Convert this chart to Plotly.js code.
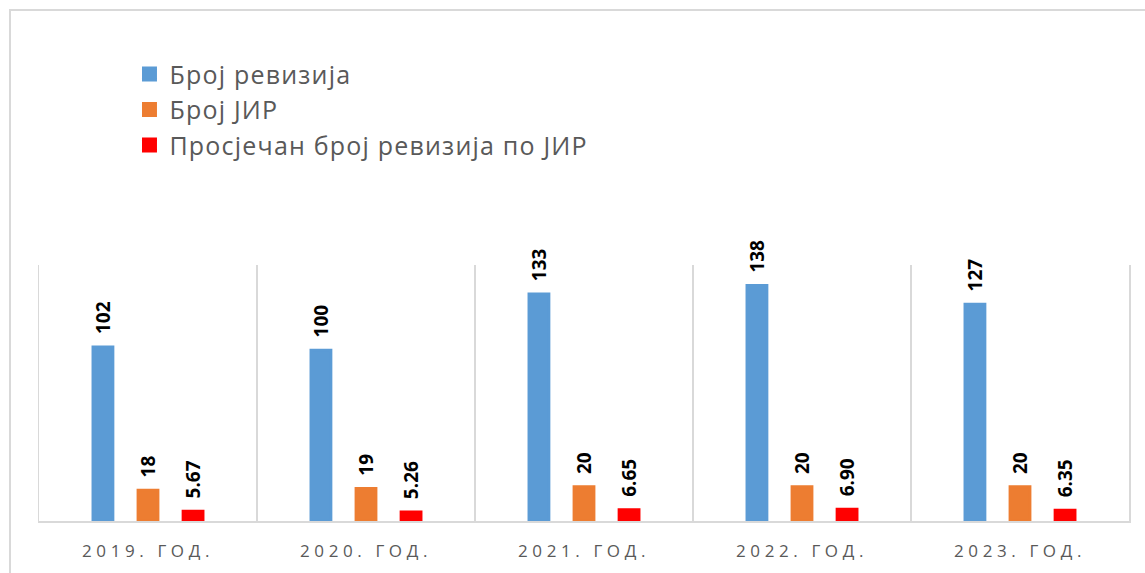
<!DOCTYPE html>
<html>
<head>
<meta charset="utf-8">
<script src="https://cdn.plot.ly/plotly-3.0.1.min.js"></script>
<style>
  html, body { margin: 0; padding: 0; background: #ffffff; overflow: hidden; }
  #frame { position: absolute; left: 9px; top: 9px; width: 1200px; height: 600px;
           border-left: 2px solid #d9d9d9; border-top: 2px solid #d9d9d9; }
  #chart { position: absolute; left: 0; top: 0; width: 1145px; height: 573px; }
  .xtick text { letter-spacing: 4.6px; }
  .legendtext { letter-spacing: 1.2px; }
</style>
</head>
<body>
<div id="frame"></div>
<div id="chart"></div>
<script>
const categories = ['2019. ГОД.', '2020. ГОД.', '2021. ГОД.', '2022. ГОД.', '2023. ГОД.'];
const seriesNames = ['Број ревизија', 'Број ЈИР', 'Просјечан број ревизија по ЈИР'];
const revisions = [102, 100, 133, 138, 127];
const jirCount = [18, 19, 20, 20, 20];
const avgPerJir = [5.67, 5.26, 6.65, 6.90, 6.35];
const colors = ['#5B9BD5', '#ED7D31', '#FF0000'];

const pad = '\u00a0\u00a0';
const labelFont = { family: 'Open Sans, sans-serif', size: 19, color: '#000000', weight: 'bold' };

function barTrace(name, values, color, fmt, group) {
  return {
    type: 'bar',
    name: name,
    x: categories,
    y: values,
    marker: { color: color, line: { color: color, width: 3 } },
    text: values.map(v => pad + fmt(v)),
    textposition: 'outside',
    textangle: -90,
    textfont: labelFont,
    constraintext: 'none',
    cliponaxis: false,
    hoverinfo: 'none',
    legendgroup: group
  };
}

const data = [
  barTrace(seriesNames[0], revisions, colors[0], v => String(v), 'a'),
  barTrace(seriesNames[1], jirCount, colors[1], v => String(v), 'b'),
  barTrace(seriesNames[2], avgPerJir, colors[2], v => v.toFixed(2), 'c')
];

const layout = {
  width: 1145,
  height: 573,
  margin: { l: 39, r: 16, t: 265, b: 52 },
  paper_bgcolor: 'rgba(0,0,0,0)',
  plot_bgcolor: 'rgba(0,0,0,0)',
  barmode: 'group',
  bargap: 0.38,
  bargroupgap: 0.56,
  showlegend: true,
  legend: {
    x: 0.083, xanchor: 'left',
    y: 1.835, yanchor: 'top',
    orientation: 'v',
    font: { family: 'Open Sans, sans-serif', size: 25, color: '#595959' },
    tracegroupgap: 0,
    bgcolor: 'rgba(0,0,0,0)'
  },
  xaxis: {
    type: 'category',
    tickson: 'boundaries',
    showgrid: true,
    gridcolor: '#d9d9d9',
    gridwidth: 1.5,
    showline: true,
    linecolor: '#d9d9d9',
    linewidth: 1.5,
    ticks: '',
    ticklen: 0,
    ticklabelstandoff: 14,
    tickfont: { family: 'Open Sans, sans-serif', size: 17, color: '#595959' },
    fixedrange: true
  },
  yaxis: {
    range: [0, 150],
    showgrid: false,
    zeroline: false,
    showticklabels: false,
    showline: true,
    mirror: true,
    linecolor: '#d9d9d9',
    linewidth: 1.5,
    ticks: '',
    fixedrange: true
  }
};

Plotly.newPlot('chart', data, layout, { displayModeBar: false, staticPlot: true });
</script>
</body>
</html>
